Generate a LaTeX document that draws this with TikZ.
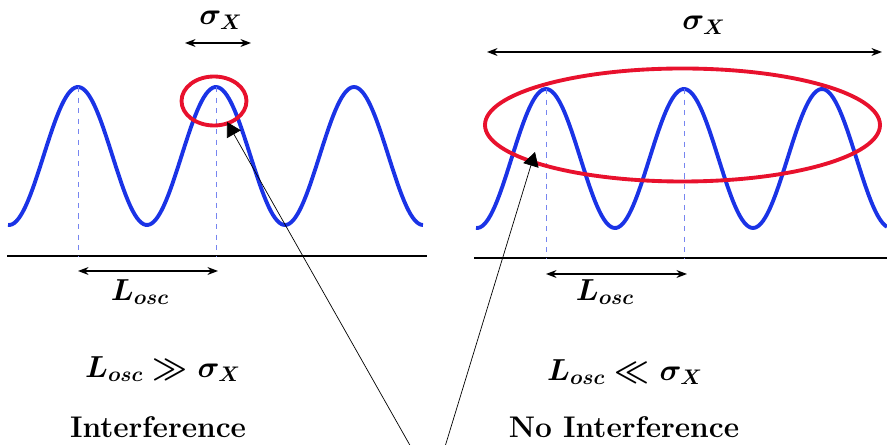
\documentclass[tikz,border=0pt]{standalone}
\usepackage{amsmath, amssymb}
\usepackage{tikz}
\usetikzlibrary{positioning, arrows.meta, calc}
\definecolor{WaveBlue}{HTML}{1A33E6}
\definecolor{SpotRed}{HTML}{E8112D}

\begin{document}
\begin{tikzpicture}[
  x=0.02cm, y=-0.02cm,
  wave/.style={WaveBlue, line width=2.2pt},
  spot/.style={SpotRed, line width=2.2pt},
  peakline/.style={WaveBlue!60, dashed, line width=0.5pt},
  axis/.style={black, line width=0.7pt},
  span/.style={black, line width=0.7pt, {Stealth[length=6pt,width=4.5pt]}-{Stealth[length=6pt,width=4.5pt]}},
  pointer/.style={black, line width=0.4pt, -{Triangle[length=8pt,width=9pt]}},
  lbl/.style={font=\fontsize{17}{20}\selectfont\bfseries\boldmath},
  txt/.style={font=\fontsize{17}{20}\selectfont\bfseries},
  >=Stealth
]
\useasboundingbox (0,0) rectangle (887,445);

% Left panel: Losc >> sigma
\draw[wave] plot[domain=8:423, samples=200, smooth] (\x, {156-69*cos(2.6087*(\x-78))});
\draw[axis] (7,256) coordinate (l_ax0) -- (427,256) coordinate (l_ax1);
\coordinate (l_pk1) at (78,87);
\coordinate (l_pk2) at (216,87);
\draw[peakline] (l_pk1) -- (l_pk1 |- l_ax0);
\draw[peakline] (l_pk2) -- (l_pk2 |- l_ax0);
\draw[spot] (214,101) ellipse [x radius=32.5, y radius=24.5];
\coordinate (l_sx0) at (185,43);
\coordinate (l_sx1) at (251,43);
\draw[span] (l_sx0) -- (l_sx1);
\node[lbl] (l_sig) at (221,20) {$\sigma_X$};
\coordinate (l_lo0) at (78,271);
\coordinate (l_lo1) at (218,271);
\draw[span] (l_lo0) -- (l_lo1);
\node[lbl] (l_los) at (140,292) {$L_{osc}$};
\node[lbl] (l_rel) at (163,369) {$L_{osc}\gg\sigma_X$};
\node[txt] (l_txt) at (158,427) {Interference};

% Right panel: Losc << sigma
\draw[wave] plot[domain=476:887, samples=200, smooth] (\x, {158.5-69.5*cos(2.6087*(\x-546))});
\draw[axis] (474,258) coordinate (r_ax0) -- (887,258) coordinate (r_ax1);
\coordinate (r_pk1) at (546,89);
\coordinate (r_pk2) at (684,89);
\draw[peakline] (r_pk1) -- (r_pk1 |- r_ax0);
\draw[peakline] (r_pk2) -- (r_pk2 |- r_ax0);
\draw[spot] (682.5,125) ellipse [x radius=197.5, y radius=56.5];
\coordinate (r_sx0) at (487,52);
\coordinate (r_sx1) at (882,52);
\draw[span] (r_sx0) -- (r_sx1);
\node[lbl] (r_sig) at (704,25) {$\sigma_X$};
\coordinate (r_lo0) at (546,274);
\coordinate (r_lo1) at (687,274);
\draw[span] (r_lo0) -- (r_lo1);
\node[lbl] (r_los) at (605,292) {$L_{osc}$};
\node[lbl] (r_rel) at (625,372) {$L_{osc}\ll\sigma_X$};
\node[txt] (r_txt) at (624,427) {No Interference};

% Pointers to the wave packets
\coordinate (src) at (433,486);
\coordinate (l_tip) at (227,122);
\coordinate (r_tip) at (535,152);
\draw[pointer] (src) -- (l_tip);
\draw[pointer] (src) -- (r_tip);

\end{tikzpicture}
\end{document}
